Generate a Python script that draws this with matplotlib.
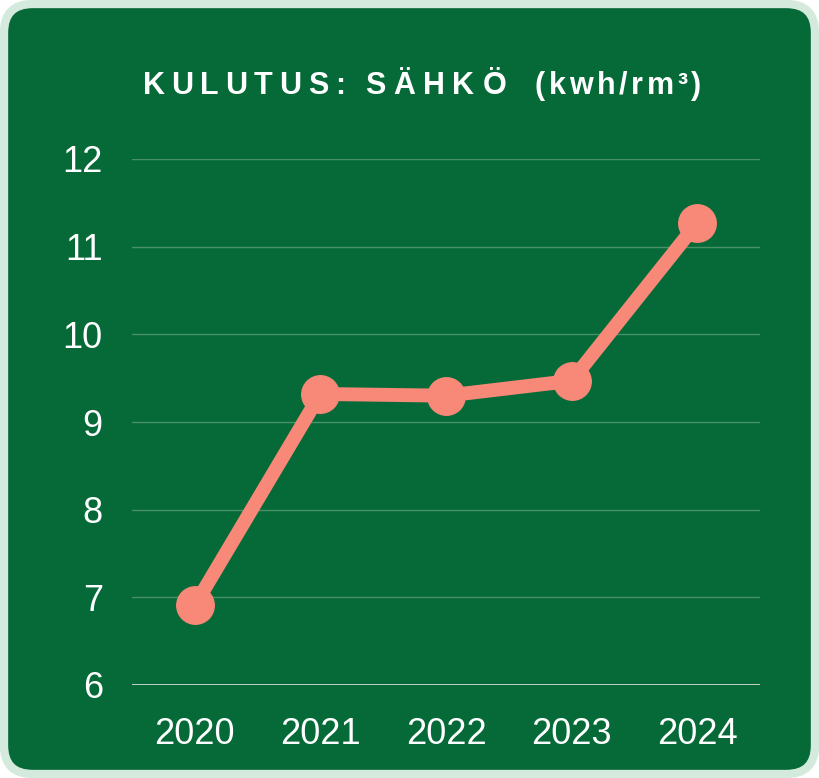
import matplotlib
matplotlib.use("Agg")
import matplotlib.pyplot as plt
from matplotlib.patches import FancyBboxPatch
from matplotlib.font_manager import FontProperties

years = ["2020", "2021", "2022", "2023", "2024"]
values = [6.91, 9.32, 9.30, 9.47, 11.27]
yticks = [6, 7, 8, 9, 10, 11, 12]
title_parts = ["KULUTUS:", "SÄHKÖ", "(kwh/rm³)"]

BG = "#056a38"
BORDER = "#d4eadc"
LINE = "#f88878"

plt.rcParams['font.family'] = ['Liberation Sans', 'DejaVu Sans']

W, H = 819, 778
fig = plt.figure(figsize=(W / 100, H / 100), dpi=100)
fig.patch.set_facecolor("white")

# rounded panel with light border
pad = 4
panel = FancyBboxPatch((pad / W, pad / H), (W - 2 * pad) / W, (H - 2 * pad) / H,
                       boxstyle="round,pad=0,rounding_size=0.035",
                       transform=fig.transFigure, facecolor=BG,
                       edgecolor=BORDER, linewidth=6, zorder=-5,
                       mutation_aspect=W / H)
fig.patches.append(panel)

ax = fig.add_axes([132 / W, 1 - 685 / H, (760 - 132) / W, (685 - 159) / H])
ax.set_zorder(1)
ax.set_facecolor("none")
x = list(range(len(years)))
ax.plot(x, values, color=LINE, linewidth=10, marker="o", markersize=27,
        solid_capstyle="round", zorder=3, clip_on=False)
ax.set_xlim(-0.5, 4.5)
ax.set_ylim(6, 12)
ax.set_yticks(yticks)
ax.set_xticks(x)
ax.set_xticklabels(years)
for s in ax.spines.values():
    s.set_visible(False)
ax.grid(axis="y", color="#5b9a74", linewidth=1, alpha=0.8)
ax.axhline(6, color="#d9d9d9", linewidth=2, zorder=2)
ax.tick_params(axis="both", length=0, colors="white", labelsize=26)
ax.tick_params(axis="y", pad=21)
ax.tick_params(axis="x", pad=23)

# letter-spaced title, drawn in three segments
fp = FontProperties(family=['Liberation Sans'], weight="bold", size=22)
renderer = fig.canvas.get_renderer()
spans = [(143, 345), (365, 506), (535, 701)]
for part, (x0, x1) in zip(title_parts, spans):
    widths = [renderer.get_text_width_height_descent(c, fp, ismath=False)[0] for c in part]
    spacing = (x1 - x0 - sum(widths)) / (len(part) - 1)
    cx = x0
    for c, w in zip(part, widths):
        fig.text(cx / W, 1 - 94 / H, c, color="white", fontproperties=fp,
                 ha="left", va="baseline")
        cx += w + spacing

fig.savefig("out.png", dpi=100, facecolor=fig.get_facecolor())
